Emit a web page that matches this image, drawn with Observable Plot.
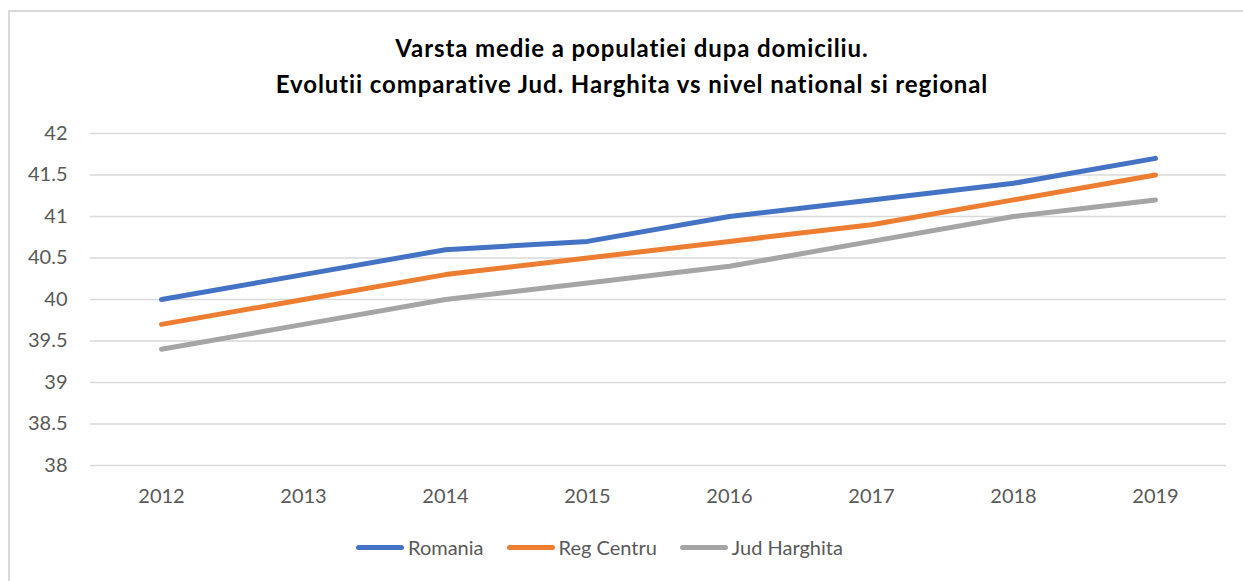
<!DOCTYPE html>
<html>
<head>
<meta charset="utf-8">
<script src="https://cdn.jsdelivr.net/npm/d3@7"></script>
<script src="https://cdn.jsdelivr.net/npm/@observablehq/plot@0.6"></script>
<style>
  html, body { margin: 0; padding: 0; background: #fff; }
  #wrap { position: relative; width: 1243px; height: 581px; overflow: hidden; font-family: Lato, "Open Sans", sans-serif; }
  #frame { position: absolute; left: 8px; top: 10px; width: 1240px; height: 580px; border-left: 2px solid #d9d9d9; border-top: 2px solid #d9d9d9; }
  #title { position: absolute; left: 0; width: 1264px; top: 30px; text-align: center; font-weight: bold; font-size: 24px; letter-spacing: 0.9px; line-height: 36px; color: #000; }
  #chart { position: absolute; left: 0; top: 100px; }
  #legend { position: absolute; top: 535px; left: 356px; display: flex; align-items: center; font-size: 20px; color: #595959; }
  .item { display: flex; align-items: center; margin-right: 23px; }
  .sw { width: 48px; height: 5px; border-radius: 3px; margin-right: 4px; }
</style>
</head>
<body>
<div id="wrap">
  <div id="frame"></div>
  <div id="title">Varsta medie a populatiei dupa domiciliu.<br>Evolutii comparative Jud. Harghita vs nivel national si regional</div>
  <div id="chart"></div>
  <div id="legend"></div>
</div>
<script>
const years = ["2012","2013","2014","2015","2016","2017","2018","2019"];
const romania = [40.0, 40.3, 40.6, 40.7, 41.0, 41.2, 41.4, 41.7];
const regCentru = [39.7, 40.0, 40.3, 40.5, 40.7, 40.9, 41.2, 41.5];
const judHarghita = [39.4, 39.7, 40.0, 40.2, 40.4, 40.7, 41.0, 41.2];
const seriesNames = ["Romania", "Reg Centru", "Jud Harghita"];
const seriesColors = ["#4472C4", "#ED7D31", "#A5A5A5"];
const yTicks = [38, 38.5, 39, 39.5, 40, 40.5, 41, 41.5, 42];

const allSeries = [romania, regCentru, judHarghita];
const data = [];
allSeries.forEach((vals, si) => {
  vals.forEach((v, i) => data.push({year: years[i], value: v, series: seriesNames[si]}));
});

const chart = Plot.plot({
  width: 1243,
  height: 430,
  marginTop: 33,
  marginBottom: 65,
  marginLeft: 90,
  marginRight: 17,
  style: { fontFamily: "Lato, 'Open Sans', sans-serif", fontSize: "20px", color: "#595959", background: "transparent" },
  x: { type: "point", domain: years, padding: 0.5, label: null },
  y: { domain: [38, 42], ticks: yTicks, label: null },
  color: { domain: seriesNames, range: seriesColors },
  marks: [
    Plot.ruleY(yTicks, { stroke: "#d9d9d9", strokeWidth: 1.5 }),
    Plot.axisX({ tickSize: 0, tickPadding: 23, fontSize: 20, fill: "#595959" }),
    Plot.axisY({ ticks: yTicks, tickFormat: d => String(d), tickSize: 0, tickPadding: 23, fontSize: 20, fill: "#595959" }),
    Plot.line(data, { x: "year", y: "value", z: "series", stroke: "series", strokeWidth: 5, strokeLinecap: "round", strokeLinejoin: "round" })
  ]
});
document.getElementById("chart").appendChild(chart);

const legend = document.getElementById("legend");
seriesNames.forEach((n, i) => {
  const it = document.createElement("div");
  it.className = "item";
  const sw = document.createElement("div");
  sw.className = "sw";
  sw.style.background = seriesColors[i];
  const t = document.createElement("span");
  t.textContent = n;
  it.appendChild(sw); it.appendChild(t);
  legend.appendChild(it);
});
</script>
</body>
</html>
